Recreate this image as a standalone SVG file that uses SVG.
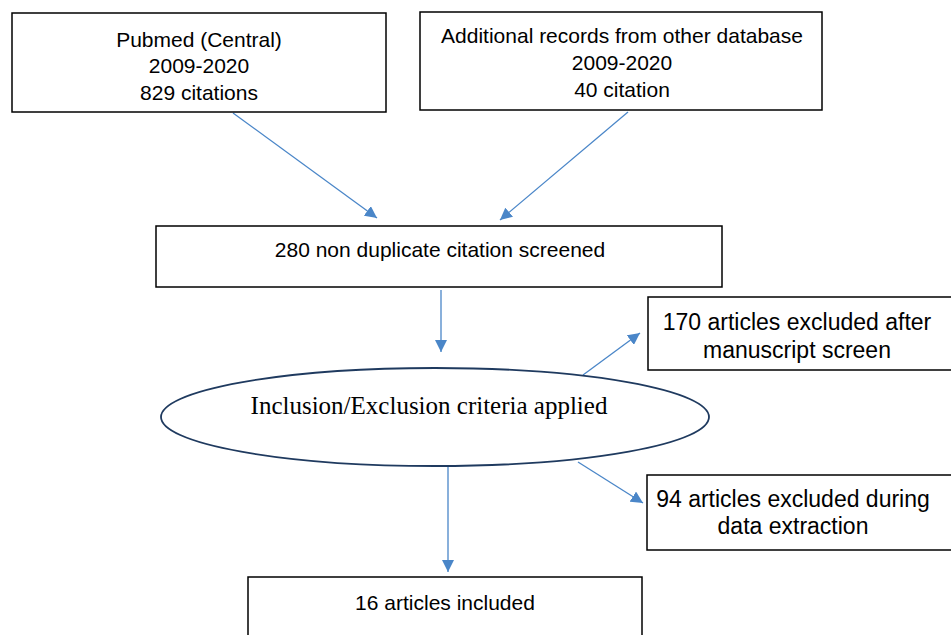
<svg xmlns="http://www.w3.org/2000/svg" width="951" height="635" viewBox="0 0 951 635">
<defs>
<marker id="ah" viewBox="0 0 10 10" refX="10" refY="5" markerWidth="12" markerHeight="12" markerUnits="userSpaceOnUse" orient="auto">
<path d="M0,0 L10,5 L0,10 z" fill="#4a86c8"/>
</marker>
<style>
.box{fill:#fff;stroke:#000;stroke-width:1.5}
.t{font-family:"Liberation Sans",Arial,sans-serif;font-size:21px;fill:#000;text-anchor:middle}
.tc{font-family:"Liberation Sans",Arial,sans-serif;font-size:23px;fill:#000;text-anchor:middle}
.ts{font-family:"Liberation Serif","Times New Roman",serif;font-size:25px;fill:#000;text-anchor:middle}
.c{stroke:#4a86c8;stroke-width:1.3;fill:none;marker-end:url(#ah)}
</style>
</defs>
<rect width="951" height="635" fill="#fff"/>
<g id="connectors">
<line class="c" x1="233" y1="113" x2="377" y2="218"/>
<line class="c" x1="628" y1="112" x2="500" y2="220"/>
<line class="c" x1="441" y1="290" x2="441" y2="352"/>
<line class="c" x1="583" y1="375" x2="640" y2="333"/>
<line class="c" x1="578" y1="462" x2="643" y2="503"/>
<line class="c" x1="448" y1="467" x2="448" y2="572"/>
</g>
<g id="pubmed">
<rect class="box" x="12" y="13" width="374" height="99"/>
<text class="t" x="199" y="47">Pubmed (Central)</text>
<text class="t" x="199" y="73">2009-2020</text>
<text class="t" x="199" y="100">829 citations</text>
</g>
<g id="additional">
<rect class="box" x="420" y="12" width="402" height="98"/>
<text class="t" x="622" y="43">Additional records from other database</text>
<text class="t" x="622" y="70">2009-2020</text>
<text class="t" x="622" y="97">40 citation</text>
</g>
<g id="screened">
<rect class="box" x="156" y="226" width="566" height="61"/>
<text class="t" x="440" y="257">280 non duplicate citation screened</text>
</g>
<g id="criteria">
<ellipse cx="435" cy="417" rx="274" ry="49" fill="#fff" stroke="#1f3a5f" stroke-width="1.8"/>
<text class="ts" x="429" y="414">Inclusion/Exclusion criteria applied</text>
</g>
<g id="excluded170">
<rect class="box" x="648" y="297" width="310" height="73"/>
<text class="tc" x="797" y="330">170 articles excluded after</text>
<text class="tc" x="797" y="358">manuscript screen</text>
</g>
<g id="excluded94">
<rect class="box" x="647" y="475" width="310" height="75"/>
<text class="tc" x="793" y="507">94 articles excluded during</text>
<text class="tc" x="793" y="534">data extraction</text>
</g>
<g id="included">
<rect class="box" x="248" y="577" width="394" height="70"/>
<text class="t" x="445" y="610">16 articles included</text>
</g>
</svg>
